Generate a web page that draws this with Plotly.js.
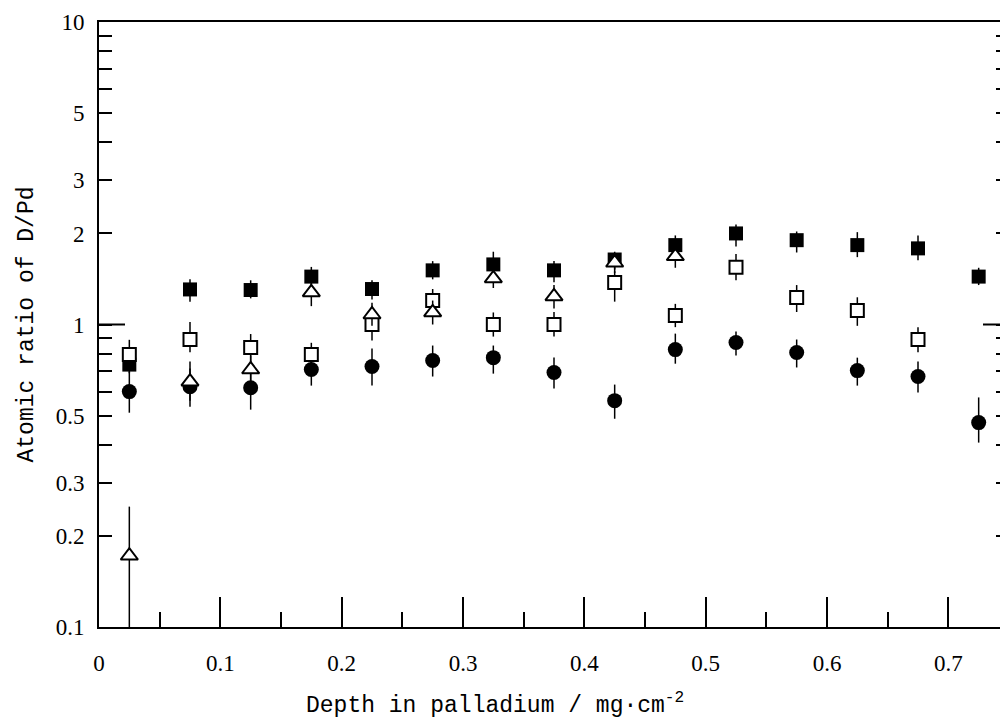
<!DOCTYPE html>
<html>
<head>
<meta charset="utf-8">
<script src="https://cdn.plot.ly/plotly-3.0.1.min.js"></script>
<style>
html, body { margin: 0; padding: 0; overflow: hidden; background: #fff; }
#chart { width: 1020px; height: 719px; }
</style>
</head>
<body>
<div id="chart"></div>
<script>
// Depth in palladium (mg/cm^2), bin centres
const depth = [0.025, 0.075, 0.125, 0.175, 0.225, 0.275, 0.325, 0.375, 0.425, 0.475, 0.525, 0.575, 0.625, 0.675, 0.725];

// Series: filled squares
const filledSq   = [0.737, 1.306, 1.30, 1.44, 1.31, 1.51, 1.58, 1.51, 1.64, 1.83, 2.00, 1.90, 1.83, 1.785, 1.44];
const filledSqHi = [0.80, 1.41, 1.40, 1.55, 1.40, 1.62, 1.74, 1.62, 1.74, 1.97, 2.14, 2.03, 2.02, 1.97, 1.54];
const filledSqLo = [0.69, 1.19, 1.22, 1.33, 1.21, 1.41, 1.46, 1.38, 1.52, 1.70, 1.81, 1.73, 1.67, 1.63, 1.35];

// Series: filled circles
const circ   = [0.600, 0.623, 0.618, 0.710, 0.726, 0.760, 0.777, 0.694, 0.560, 0.826, 0.872, 0.808, 0.704, 0.673, 0.474];
const circHi = [0.70, 0.715, 0.709, 0.80, 0.833, 0.852, 0.852, 0.778, 0.633, 0.933, 0.948, 0.892, 0.777, 0.754, 0.574];
const circLo = [0.511, 0.535, 0.523, 0.628, 0.628, 0.673, 0.688, 0.614, 0.488, 0.742, 0.790, 0.721, 0.628, 0.596, 0.407];

// Series: open squares
const openSq   = [0.796, 0.892, 0.839, 0.796, 1.00, 1.20, 1.00, 1.00, 1.377, 1.071, 1.545, 1.229, 1.113, 0.892, null];
const openSqHi = [0.89, 1.02, 0.93, 0.87, 1.10, 1.31, 1.096, 1.10, 1.50, 1.17, 1.71, 1.35, 1.23, 0.98, null];
const openSqLo = [0.73, 0.81, 0.75, 0.72, 0.885, 1.09, 0.912, 0.912, 1.19, 0.98, 1.40, 1.10, 0.99, 0.81, null];

// Series: open triangles
const tri   = [0.172, 0.647, 0.710, 1.276, 1.079, 1.096, 1.42, 1.238, 1.60, 1.68, null, null, null, null, null];
const triHi = [0.25, 0.755, 0.79, 1.42, 1.18, 1.20, 1.53, 1.35, 1.72, 1.82, null, null, null, null, null];
const triLo = [0.10, 0.56, 0.64, 1.15, 0.99, 1.00, 1.32, 1.13, 1.48, 1.54, null, null, null, null, null];

// Axis ticks
const yMajorVals = [0.1, 0.2, 0.3, 0.5, 1, 2, 3, 5, 10];
const yMajorText = ['0.1', '0.2', '0.3', '0.5', '1', '2', '3', '5', '10'];
const yMinorVals = [0.4, 0.6, 0.7, 0.8, 0.9, 4, 6, 7, 8, 9];

function errPlus(v, hi) { return v.map((y, i) => (y == null || hi[i] == null) ? 0 : hi[i] - y); }
function errMinus(v, lo) { return v.map((y, i) => (y == null || lo[i] == null) ? 0 : y - lo[i]); }

function makeTrace(vals, hi, lo, marker) {
  return {
    x: depth, y: vals, type: 'scatter', mode: 'markers',
    marker: marker,
    error_y: {
      type: 'data', symmetric: false,
      array: errPlus(vals, hi), arrayminus: errMinus(vals, lo),
      width: 0, thickness: 1.5, color: '#000'
    },
    showlegend: false, hoverinfo: 'x+y'
  };
}

const traces = [
  makeTrace(filledSq, filledSqHi, filledSqLo, {symbol: 'square', size: 14, color: '#000', line: {width: 0}}),
  makeTrace(circ, circHi, circLo, {symbol: 'circle', size: 15, color: '#000', line: {width: 0}}),
  makeTrace(openSq, openSqHi, openSqLo, {symbol: 'square', size: 13, color: '#fff', line: {width: 2, color: '#000'}}),
  makeTrace(tri, triHi, triLo, {symbol: 'triangle-up', size: 15, color: '#fff', line: {width: 2, color: '#000'}})
];

const tickFont = {family: '"Liberation Serif", "Times New Roman", serif', size: 23, color: '#000'};
const titleFont = {family: '"Liberation Mono", "DejaVu Sans Mono", monospace', size: 23, color: '#000'};

const layout = {
  width: 1020, height: 719,
  margin: {l: 99, r: 11, t: 22, b: 92},
  paper_bgcolor: '#fff', plot_bgcolor: '#fff',
  xaxis: {
    range: [0, 0.75], showgrid: false, zeroline: false,
    showline: true, linecolor: '#000', linewidth: 2, mirror: true,
    ticks: 'inside', ticklen: 30, tickwidth: 2, tickcolor: '#000',
    tickmode: 'linear', tick0: 0, dtick: 0.1,
    ticklabelstandoff: 14,
    tickfont: tickFont,
    minor: {ticks: 'inside', tickmode: 'linear', tick0: 0, dtick: 0.05, ticklen: 15, tickwidth: 2, tickcolor: '#000', showgrid: false}
  },
  yaxis: {
    type: 'log', range: [-1, 1], showgrid: false, zeroline: false,
    showline: true, linecolor: '#000', linewidth: 2, mirror: 'ticks',
    ticks: 'inside', ticklen: 13, tickwidth: 2, tickcolor: '#000',
    tickmode: 'array', tickvals: yMajorVals, ticktext: yMajorText,
    ticklabelstandoff: 8,
    tickfont: tickFont,
    minor: {ticks: 'inside', tickmode: 'array', tickvals: yMinorVals, ticklen: 13, tickwidth: 2, tickcolor: '#000', showgrid: false},
    title: {text: 'Atomic ratio of D/Pd', font: titleFont, standoff: 16}
  },
  shapes: [
    {type: 'line', xref: 'paper', yref: 'y', x0: 0, x1: 26 / 910, y0: 1, y1: 1, line: {color: '#000', width: 2}},
    {type: 'line', xref: 'paper', yref: 'y', x0: 1 - 26 / 910, x1: 1, y0: 1, y1: 1, line: {color: '#000', width: 2}}
  ],
  annotations: [
    {text: 'Depth in palladium / mg·cm<sup>-2</sup>', xref: 'paper', yref: 'paper',
     x: 0.435, y: -0.128, xanchor: 'center', yanchor: 'middle', showarrow: false, font: titleFont}
  ]
};

Plotly.newPlot('chart', traces, layout, {displayModeBar: false, staticPlot: true});
</script>
</body>
</html>
